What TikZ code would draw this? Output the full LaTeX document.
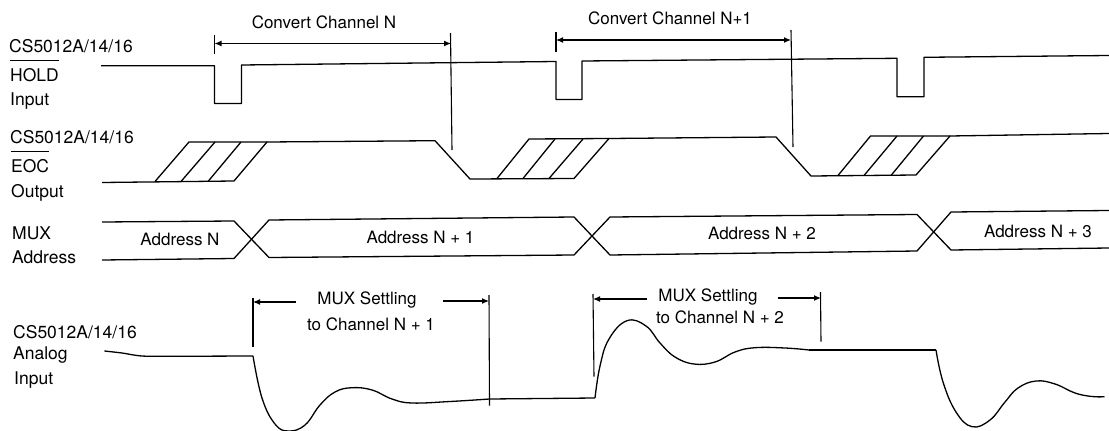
\documentclass[tikz,border=0pt]{standalone}
\usepackage{fontspec}
\setmainfont{TeX Gyre Heros}
\usetikzlibrary{arrows.meta}
\tikzset{
  wave/.style={black, line width=1.3pt, line join=round},
  span/.style={black, line width=1.1pt},
  spanarrow/.style={span, -{Latex[length=7pt, width=6pt]}},
  lbl/.style={anchor=base west, inner sep=0pt, font=\fontsize{17.5}{20}\selectfont},
  txt/.style={inner sep=0pt, font=\fontsize{17}{20}\selectfont}
}

\begin{document}
\begin{tikzpicture}[x=1pt, y=-1pt]
\useasboundingbox (0, 0) rectangle (1109, 431);

% left labels
\node[lbl] (holdname) at (9, 52) {CS5012A/14/16};
\node[lbl] (hold) at (10, 81) {HOLD};
\node[lbl] (holdin) at (10, 105) {Input};
\node[lbl] (eocname) at (10, 143) {CS5012A/14/16};
\node[lbl] (eoc) at (11, 172) {EOC};
\node[lbl] (eocout) at (11, 197) {Output};
\node[lbl] (mux) at (12, 239) {MUX};
\node[lbl] (muxaddr) at (12, 263) {Address};
\node[lbl] (ananame) at (13, 338) {CS5012A/14/16};
\node[lbl] (ana) at (13, 359) {Analog};
\node[lbl] (anain) at (14, 384) {Input};
\draw[span] ([yshift=7pt]hold.north west) -- ([yshift=7pt]hold.north east);
\draw[span] ([yshift=7pt]eoc.north west) -- ([yshift=7pt]eoc.north east);

% hold input
\draw[wave] (101, 65.7) -- (214.5, 65.7) -- (214.5, 103.5) -- (241.4, 103.5) -- (241.4, 65)
  -- (556, 61.5) -- (556, 99.5) -- (582, 99.5) -- (582, 61) -- (897, 58.3) -- (897, 96.7)
  -- (924, 96.7) -- (924, 57.3) -- (1109, 55.5);

% eoc output
\draw[wave] (102, 182.5) -- (234, 181) -- (267, 142) -- (435, 140.7) -- (470, 179) -- (574, 178.5)
  -- (609, 138.5) -- (776, 137) -- (811, 176) -- (916, 175) -- (950, 136) -- (1109, 133.5);
\draw[wave] (155, 181.5) -- (189, 142) -- (267, 142);
\draw[wave] (497, 178.5) -- (529, 139) -- (609, 138.5);
\draw[wave] (838, 175.5) -- (870.5, 136) -- (950, 136);
\foreach \xa/\xb/\ya/\yb in {181/215/181.5/142, 208/241/181.5/142, 523/555/178.5/139, 549/583/178.5/139, 864/897/175.5/136, 891/923.5/175.5/136} {
  \draw[wave] (\xa, \ya) -- (\xb, \yb);
}

% mux address
\draw[wave] (102, 222) -- (234, 221) -- (269, 257.5) -- (574, 255) -- (610, 217) -- (917, 214.5) -- (951, 250) -- (1109, 248);
\draw[wave] (102, 260) -- (234, 258.5) -- (269, 220) -- (574, 217) -- (610, 255) -- (917, 251) -- (951, 212) -- (1109, 210.5);
\node[txt] (addr0) at (180, 239) {Address N};
\node[txt] (addr1) at (420.5, 237) {Address N + 1};
\node[txt] (addr2) at (762, 233) {Address N + 2};
\node[txt] (addr3) at (1038, 231) {Address N + 3};

% analog input
\draw[wave] plot[smooth, tension=0.5] coordinates {(104.4, 351) (122, 353) (141.6, 356) (170, 356.3)};
\draw[wave] (170, 356.3) -- (253, 356);
\draw[wave] plot[smooth, tension=0.7] coordinates {(253, 356) (262, 398) (275, 424) (288.5, 431) (305, 425) (320, 405)
  (335, 392) (352, 387.7) (372, 390) (392, 399) (412, 403) (450, 401.5) (489.5, 399)};
\draw[wave] (489.5, 399) -- (595, 398);
\draw[wave] plot[smooth, tension=0.7] coordinates {(595, 398) (600, 366) (609, 339) (627, 320.7) (646, 326) (660, 343)
  (675, 357) (694, 364) (715, 362) (735, 352) (755, 347.7) (785, 348) (809, 350)};
\draw[wave] (809, 350) -- (936, 350);
\draw[wave] plot[smooth, tension=0.7] coordinates {(936, 350) (943, 382) (956, 412) (972, 426.7) (990, 420) (1005, 402)
  (1018, 388) (1036, 381) (1055, 384) (1075, 393) (1092, 396.5) (1104.5, 396.7)};

% convert spans
\coordinate (c1a) at (214.5, 43.5);
\coordinate (c1b) at (451, 43.5);
\coordinate (c2a) at (556, 40);
\coordinate (c2b) at (791, 40);
\draw[span] (214.5, 35) -- (214.5, 54);
\draw[span] (450.5, 33) -- (452, 150);
\draw[span] (556, 32) -- (556, 52);
\draw[span] (791, 30) -- (793, 147);
\draw[span, {Latex[length=7pt, width=6pt]}-{Latex[length=7pt, width=6pt]}] (c1a) -- (c1b);
\draw[span, {Latex[length=7pt, width=6pt]}-{Latex[length=7pt, width=6pt]}] (c2a) -- (c2b);
\node[txt] (conv1) at (324, 22) {Convert Channel N};
\node[txt] (conv2) at (670, 18) {Convert Channel N+1};

% settling spans
\coordinate (s1a) at (253, 302);
\coordinate (s1b) at (296, 302);
\coordinate (s1c) at (442.5, 301);
\coordinate (s1d) at (489, 301);
\coordinate (s2a) at (593, 299);
\coordinate (s2b) at (647, 299);
\coordinate (s2c) at (777.5, 298);
\coordinate (s2d) at (821, 298);
\draw[span] (253, 298) -- (253, 347);
\draw[span] (489, 295) -- (489.5, 405.7);
\draw[span] (593, 294) -- (594, 376.7);
\draw[span] (820.5, 292) -- (821, 341.7);
\draw[spanarrow] (s1b) -- (s1a);
\draw[spanarrow] (s1c) -- (s1d);
\draw[spanarrow] (s2b) -- (s2a);
\draw[spanarrow] (s2c) -- (s2d);
\node[txt] (set1) at (367, 300) {MUX Settling};
\node[txt] (set1b) at (371, 324) {to Channel N + 1};
\node[txt] (set2) at (708, 297) {MUX Settling};
\node[txt] (set2b) at (720, 317) {to Channel N + 2};
\end{tikzpicture}
\end{document}
